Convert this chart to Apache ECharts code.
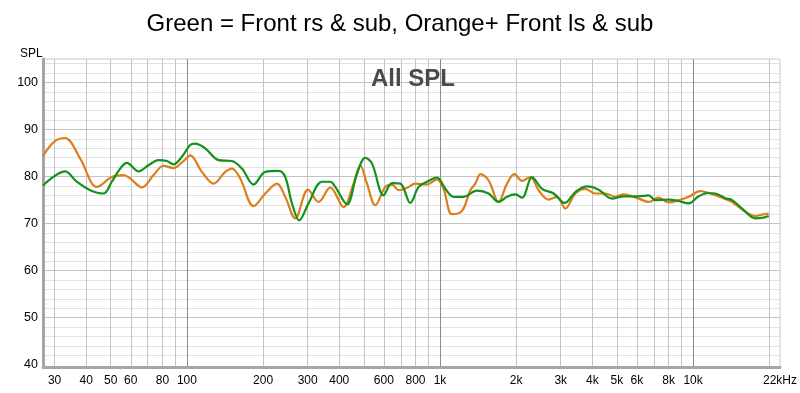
<!DOCTYPE html>
<html><head><meta charset="utf-8">
<script src="https://cdn.jsdelivr.net/npm/echarts@6/dist/echarts.min.js"></script>
<style>html,body{margin:0;padding:0;background:#fff}#c{width:800px;height:393px}</style>
</head><body><div id="c"></div>
<script>
const chartTitle = 'Green = Front rs & sub, Orange+ Front ls & sub';
const chartSubtitle = 'All SPL';
const yAxisName = 'SPL';

const orangeFreq = [27,30,33,37.9,44.1,50.5,56.2,59.7,66.4,73.8,80.8,88.5,96.9,103,114.6,127.4,141.7,150.6,162.4,183.4,204,226.9,244.6,267.9,300.8,331.3,368.5,415.9,455.5,484.2,514.6,555,607.9,646,686,740.7,798.6,888.3,973,1033,1115,1222,1318,1379,1445,1556,1704,1840,1966,2110,2275,2453,2687,2901,3128,3426,3752,4110,4503,4931,5318,6095,6676,7311,8009,8910,9607,10688,11527,13021,14265,16100,17630,18740,19900];
const orangeSPL = [84.4,87.5,88.2,83.8,77.8,79.9,80.3,79.6,77.7,80.3,82.3,81.8,83.3,84.5,81.0,78.5,81.0,81.7,79.6,73.7,76.4,78.5,75.7,71.1,77.2,74.6,77.7,73.5,78.5,82.4,78.5,73.9,77.8,78.3,77.1,77.6,78.5,78.3,79.4,77.4,72.0,72.7,77.1,78.5,80.5,79.2,74.6,78.5,80.5,79.1,79.9,77.1,75.1,75.7,73.2,76.4,77.4,76.4,76.4,75.7,76.2,75.3,74.6,75.5,74.5,75.1,75.7,76.9,76.5,75.5,74.6,72.5,71.6,71.9,72.1];

const greenFreq = [27,33,36.7,41.5,46.8,50.5,54.5,57.9,64.4,70.5,77.2,83.4,88.5,95.5,103,107.8,118.1,133.3,150.6,165,183.4,204,230.1,244.6,260,277.9,302.4,341.7,368.5,385.7,429,469.9,506.9,538.6,598.5,646,696.7,763.2,823.2,888.3,973,1050,1132,1240,1400,1556,1704,1840,1985,2110,2310,2531,2812,3108,3426,3811,4237,4784,5318,6095,6676,7096,8009,8770,9607,10520,11527,12250,13410,14265,15620,17630,18740,19900];
const greenSPL = [78.1,81.1,78.9,77.1,76.4,78.9,81.7,82.9,81.1,82.4,83.5,83.3,82.6,84.2,86.7,87.0,86.0,83.5,83.3,81.7,78.3,81.0,81.2,79.9,74.3,70.7,74.3,78.9,78.9,77.8,74.1,80.6,84.0,82.8,76.0,78.6,78.5,74.4,77.8,78.9,79.8,77.4,75.7,75.7,77.0,76.4,74.6,75.7,76.2,75.5,79.9,77.4,76.4,74.4,76.7,77.9,77.2,75.3,75.8,75.8,76.0,75.0,75.1,74.8,74.3,75.8,76.5,76.4,75.4,75.0,73.2,71.1,71.2,71.6];

const xTickLabels = [30,40,50,60,80,100,200,300,400,600,800,1000,2000,3000,4000,5000,6000,8000,10000,22050];
const yTickLabels = [40,50,60,70,80,90,100];
const xGridLines = [30,40,50,60,70,80,90,200,300,400,500,600,700,800,900,2000,3000,4000,5000,6000,7000,8000,9000,20000];
const xGridMajor = [100,1000,10000];
const yGridMajor = [50,60,70,80,90,100];
const yGridMinor = [42,44,46,48,52,54,56,58,62,64,66,68,72,74,76,78,82,84,86,88,92,94,96,98,102,104];

const gridLineData = []
  .concat(yGridMinor.map(v => ({yAxis: v, lineStyle: {color: '#e2e2e2', width: 1, type: 'solid'}})))
  .concat(yGridMajor.map(v => ({yAxis: v, lineStyle: {color: '#c4c4c4', width: 1, type: 'solid'}})))
  .concat(xGridLines.map(v => ({xAxis: v, lineStyle: {color: '#c4c4c4', width: 1, type: 'solid'}})))
  .concat(xGridMajor.map(v => ({xAxis: v, lineStyle: {color: '#8a8a8a', width: 1, type: 'solid'}})));

function fmtFreq(v) {
  if (v >= 22000) return '22kHz';
  if (v >= 1000) return (v / 1000) + 'k';
  return String(v);
}

const FONT = 'Liberation Sans, Arial, sans-serif';
const chart = echarts.init(document.getElementById('c'), null, {renderer: 'canvas'});
chart.setOption({
  animation: false,
  backgroundColor: '#fff',
  textStyle: {fontFamily: FONT},
  title: [
    {text: chartTitle, left: 'center', top: 7,
     textStyle: {fontSize: 24, fontWeight: 'normal', color: '#000', fontFamily: FONT}},
    {text: chartSubtitle, left: 366, top: 62,
     textStyle: {fontSize: 24, fontWeight: 'bold', color: '#4a4a4a', fontFamily: FONT}},
    {text: yAxisName, left: 15, top: 43,
     textStyle: {fontSize: 12, fontWeight: 'normal', color: '#000', fontFamily: FONT}}
  ],
  grid: {left: 43, right: 20, top: 59, bottom: 26, show: true, borderColor: '#c8c8c8', borderWidth: 1, backgroundColor: '#fff'},
  xAxis: {
    type: 'log', logBase: 10, min: 27, max: 22050, z: 2,
    axisLine: {show: true, lineStyle: {color: '#a6a6a6', width: 3}},
    axisTick: {show: false},
    splitLine: {show: false},
    axisLabel: {customValues: xTickLabels, formatter: fmtFreq, color: '#000', fontSize: 12, margin: 8, hideOverlap: false, showMinLabel: true, showMaxLabel: true}
  },
  yAxis: {
    type: 'value', min: 39.5, max: 105, z: 2,
    axisLine: {show: true, lineStyle: {color: '#a6a6a6', width: 3}},
    axisTick: {show: false},
    splitLine: {show: false},
    axisLabel: {customValues: yTickLabels, color: '#000', fontSize: 12.5, margin: 5}
  },
  series: [
    {name: 'grid', type: 'line', data: [], silent: true, z: 1,
     markLine: {z: 1, symbol: 'none', silent: true, animation: false, label: {show: false}, emphasis: {disabled: true}, data: gridLineData}},
    {name: 'Orange', type: 'line', z: 3, showSymbol: false, smooth: 0.35,
     lineStyle: {color: '#de7d1c', width: 2.2}, itemStyle: {color: '#de7d1c'},
     data: orangeFreq.map((f, i) => [f, orangeSPL[i]])},
    {name: 'Green', type: 'line', z: 4, showSymbol: false, smooth: 0.35,
     lineStyle: {color: '#12921a', width: 2.2}, itemStyle: {color: '#12921a'},
     data: greenFreq.map((f, i) => [f, greenSPL[i]])}
  ]
});
</script>
</body></html>
